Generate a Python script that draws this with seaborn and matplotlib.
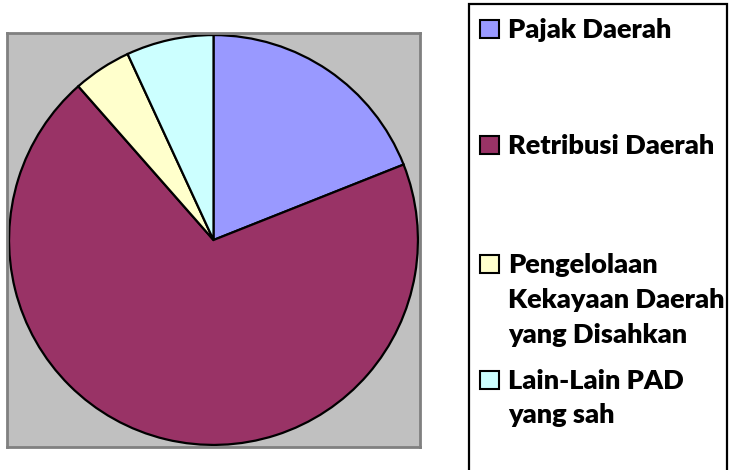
import matplotlib
matplotlib.use("Agg")
import matplotlib.pyplot as plt
import seaborn as sns
from matplotlib.patches import Rectangle

categories = ["Pajak Daerah", "Retribusi Daerah",
              "Pengelolaan\nKekayaan Daerah\nyang Disahkan",
              "Lain-Lain PAD\nyang sah"]
values = [19.0, 69.5, 4.6, 6.9]
colors = ["#9999FF", "#993366", "#FFFFCC", "#CCFFFF"]

sns.set_theme(style="white")
plt.rcParams['font.family'] = ['Lato', 'DejaVu Sans']

W, H = 733, 470
fig = plt.figure(figsize=(W / 100, H / 100), dpi=100)

# plot area (gray box)
x0, y0, x1, y1 = 7, 33, 420, 447
ax = fig.add_axes([x0 / W, 1 - y1 / H, (x1 - x0) / W, (y1 - y0) / H])
ax.pie(values, colors=colors, startangle=90, counterclock=False, frame=True,
       radius=0.99, wedgeprops=dict(edgecolor="black", linewidth=1.6))
ax.set_facecolor("#C0C0C0")
ax.set_xlim(-1, 1)
ax.set_ylim(-1, 1)
ax.set_aspect("auto")
ax.set_xticks([])
ax.set_yticks([])
for s in ax.spines.values():
    s.set_visible(True)
    s.set_color("#808080")
    s.set_linewidth(2)

# legend box
def fx(px):
    return px / W

def fy(py):
    return 1 - py / H

fig.patches.append(Rectangle((fx(469), fy(480)), fx(727) - fx(469), fy(4) - fy(480),
                             transform=fig.transFigure, fill=True, facecolor="white",
                             edgecolor="black", linewidth=1.6, zorder=1))

baselines = [[38], [154], [273, 308, 343], [389, 423]]
for cat, col, bl in zip(categories, colors, baselines):
    lines = cat.split("\n")
    b0 = bl[0]
    fig.patches.append(Rectangle((fx(480), fy(b0)), fx(499) - fx(480), fy(b0 - 18) - fy(b0),
                                 transform=fig.transFigure, facecolor=col,
                                 edgecolor="black", linewidth=1.5, zorder=2))
    for line, b in zip(lines, bl):
        fig.text(fx(508), fy(b), line, fontsize=19.5, fontweight="heavy",
                 color="black", va="baseline", ha="left", zorder=3)

fig.savefig("out.png", dpi=100)
